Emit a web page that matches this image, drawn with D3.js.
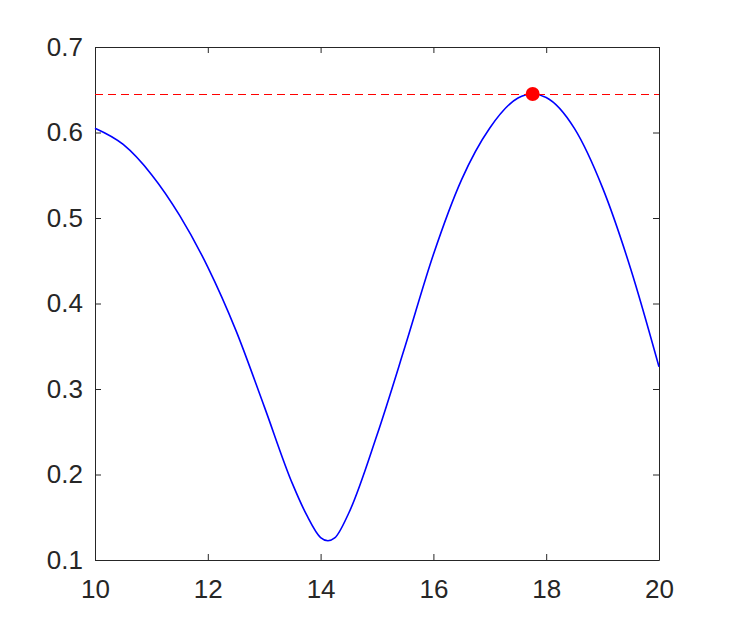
<!DOCTYPE html>
<head>
<meta charset="utf-8">
<title>Curve with peak</title>
<script src="https://d3js.org/d3.v7.min.js"></script>
<style>
body { margin: 0; background: #fff; }
text { font-family: "Liberation Sans", Arial, sans-serif; }
</style>
</head>
<body>
<div id="container"></div>
<script>
//--------------------------- DATA ---------------------------//
// points
const curveX = [10, 10.5, 11, 11.5, 12, 12.5, 13, 13.5, 13.75, 14, 14.13, 14.25, 14.5,
                15, 15.5, 16, 16.5, 17, 17.5, 17.76, 18, 18.5, 19, 19.5, 20];
const curveY = [0.605, 0.586, 0.551, 0.503, 0.4426, 0.3683, 0.2797, 0.1893, 0.153, 0.1263,
                0.1226, 0.1258, 0.155, 0.2462, 0.3502, 0.4573, 0.5449, 0.6053, 0.6404, 0.645,
                0.641, 0.6048, 0.5352, 0.4401, 0.326];
const peakX = 17.76;
const peakY = 0.645;
const xTicks = [10, 12, 14, 16, 18, 20];
const yTicks = [0.1, 0.2, 0.3, 0.4, 0.5, 0.6, 0.7];

//--------------------------- SVG ----------------------------//
const W = 729, H = 630;
const pLeft = 95, pRight = 659, pTop = 47, pBottom = 560;
const axisColor = "#262626";

const svg = d3.select("#container").append("svg")
    .attr("width", W)
    .attr("height", H);

const x = d3.scaleLinear().domain([10, 20]).range([pLeft, pRight]);
const y = d3.scaleLinear().domain([0.1, 0.7]).range([pBottom, pTop]);

//--------------------------- AXES ---------------------------//
const tickLen = 6;
const fmtY = d3.format(".1f");

const xAxisB = d3.axisBottom(x).tickValues(xTicks).tickSizeInner(-tickLen).tickSizeOuter(0)
    .tickPadding(20).tickFormat(d3.format("d"));
const xAxisT = d3.axisTop(x).tickValues(xTicks).tickSizeInner(-tickLen).tickSizeOuter(0)
    .tickFormat("");
const yAxisL = d3.axisLeft(y).tickValues(yTicks).tickSizeInner(-tickLen).tickSizeOuter(0)
    .tickPadding(12).tickFormat(fmtY);
const yAxisR = d3.axisRight(y).tickValues(yTicks).tickSizeInner(-tickLen).tickSizeOuter(0)
    .tickFormat("");

function styleAxis(g) {
  g.select(".domain").attr("stroke", axisColor).attr("stroke-width", 1);
  g.selectAll(".tick line").attr("stroke", axisColor);
  g.selectAll(".tick text")
    .attr("fill", axisColor)
    .style("font-size", "26px")
    .style("font-family", "'Liberation Sans', Arial, sans-serif");
}

svg.append("g").attr("transform", `translate(0,${pBottom})`).call(xAxisB).call(styleAxis);
svg.append("g").attr("transform", `translate(0,${pTop})`).call(xAxisT).call(styleAxis);
svg.append("g").attr("transform", `translate(${pLeft},0)`).call(yAxisL).call(styleAxis);
svg.append("g").attr("transform", `translate(${pRight},0)`).call(yAxisR).call(styleAxis);

//--------------------------- MARKS --------------------------//
const pts = curveX.map((d, i) => ({x: d, y: curveY[i]}));

const line = d3.line()
    .x(d => x(d.x))
    .y(d => y(d.y))
    .curve(d3.curveMonotoneX);

svg.append("path")
    .attr("d", line(pts))
    .attr("fill", "none")
    .attr("stroke", "#0000ff")
    .attr("stroke-width", 1.6);

// dashed reference line at the peak value
svg.append("line")
    .attr("x1", x(10))
    .attr("x2", x(20))
    .attr("y1", Math.round(y(peakY)) + 0.5)
    .attr("y2", Math.round(y(peakY)) + 0.5)
    .attr("stroke", "#ff0000")
    .attr("stroke-width", 1)
    .attr("stroke-dasharray", "8,5");

svg.append("circle")
    .attr("cx", x(peakX))
    .attr("cy", y(peakY))
    .attr("r", 7)
    .attr("fill", "#ff0000");
</script>
</body>
